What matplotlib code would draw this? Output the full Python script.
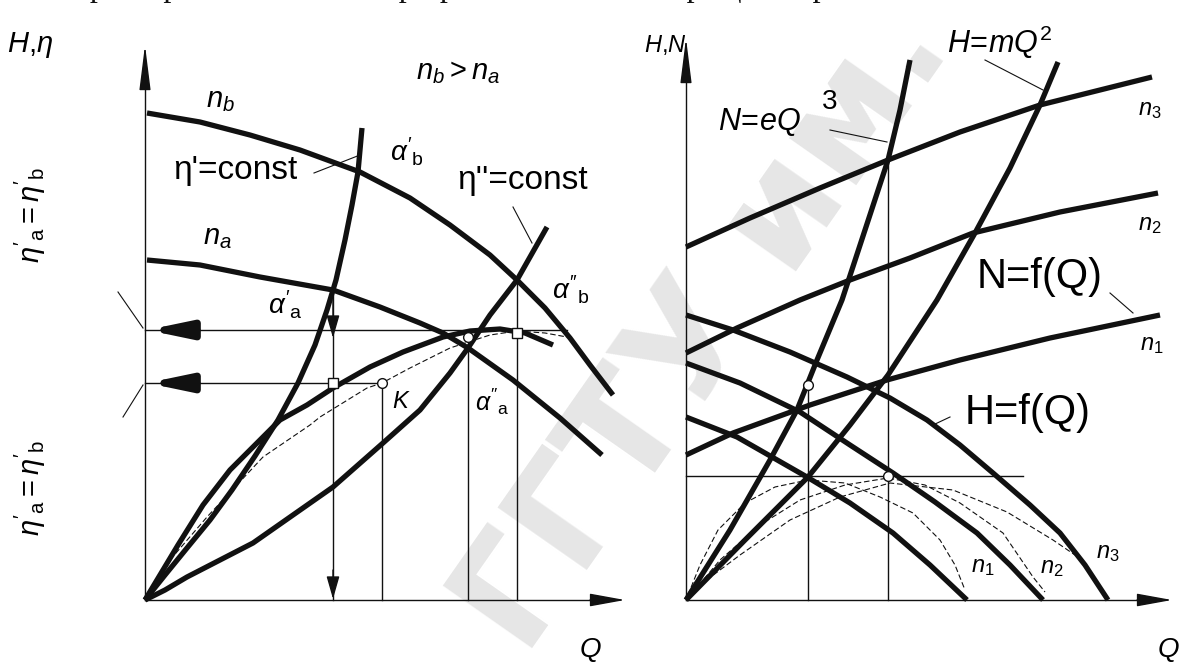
import matplotlib
matplotlib.use("Agg")
import matplotlib.pyplot as plt

plt.rcParams.update({
    "font.family": ["Liberation Sans", "DejaVu Sans"],
    "mathtext.fontset": "custom",
    "mathtext.rm": "Liberation Sans",
    "mathtext.it": "Liberation Sans:italic",
    "mathtext.bf": "Liberation Sans:bold",
})

INK = "#111111"
THICK = 3.8
THIN = 1.0

# ---------------- left diagram: H-Q at n_a, n_b, efficiency curves ----------------
# points are (Q, H) measured from the panel origin
HQ_NB = [(2, 487), (55, 478), (105, 465), (155, 450), (215, 428), (265, 402), (305, 375),
         (345, 345), (372, 320), (400, 292), (425, 262), (445, 235), (468, 205)]
HQ_NA = [(2, 340), (55, 335), (115, 323), (188, 310), (235, 293), (275, 277), (298, 267),
         (323, 252), (368, 220), (415, 182), (457, 145)]
ETA1_CONST = [(0, 0), (20, 25), (42, 52), (65, 80), (87, 110), (110, 144), (133, 180),
              (153, 217), (170, 255), (182, 290), (191, 320), (200, 360), (207, 395),
              (213, 428), (217, 472)]
ETA2_CONST = [(0, 0), (20, 10), (42, 23), (108, 57), (188, 113), (238, 157), (275, 190),
              (305, 227), (323, 252), (345, 285), (372, 320), (402, 373)]
EFF_NA = [(0, 0), (15, 25), (33, 55), (58, 95), (85, 130), (118, 163), (135, 180), (162, 195),
          (188, 212), (225, 233), (258, 248), (298, 263), (325, 269), (355, 271), (380, 267),
          (408, 255)]
EFF_NB = [(3, 5), (25, 40), (62, 83), (118, 143), (165, 175), (175, 183), (222, 212),
          (237, 217), (265, 232), (305, 252), (345, 265), (372, 269), (400, 267), (422, 263)]

# projection lines: (Q, H_top) verticals and (Q_end, H) horizontals
LEFT_VERT = [(188, 310), (237, 217), (323, 252), (372, 320)]
LEFT_HORZ = [(422, 270), (237, 217)]
LEFT_CIRCLES = [(237, 217), (323, 263)]
LEFT_SQUARES = [(188, 217), (372, 267)]

# ---------------- right diagram: H-Q and N-Q at n1, n2, n3 ----------------
NQ_N3 = [(0, 353), (64, 382), (134, 412), (202, 440), (274, 468), (354, 495), (414, 510), (466, 523)]
NQ_N2 = [(0, 247), (51, 272), (114, 300), (164, 320), (224, 342), (287, 367), (374, 388), (472, 407)]
NQ_N1 = [(0, 145), (47, 167), (124, 195), (201, 220), (274, 240), (364, 262), (474, 285)]
HQ_N3 = [(0, 285), (47, 270), (104, 248), (161, 223), (204, 202), (241, 180), (274, 155),
         (307, 127), (344, 95), (374, 67), (399, 35), (422, 0)]
HQ_N2 = [(0, 237), (54, 217), (114, 188), (164, 155), (207, 127), (249, 98), (291, 67),
         (324, 35), (357, 0)]
HQ_N1 = [(0, 183), (51, 163), (121, 123), (164, 97), (207, 67), (244, 35), (281, 0)]
H_MQ2 = [(0, 0), (59, 60), (122, 123), (164, 175), (202, 225), (251, 300), (289, 367),
         (324, 432), (354, 495), (372, 538)]
N_EQ3 = [(0, 0), (44, 70), (84, 140), (111, 190), (131, 240), (156, 300), (179, 370),
         (202, 440), (214, 490), (224, 540)]
ETA_N1 = [(2, 5), (14, 35), (32, 70), (59, 97), (89, 113), (122, 120), (159, 117), (194, 103),
          (227, 87), (254, 60), (269, 35), (279, 10)]
ETA_N2 = [(2, 2), (34, 40), (74, 75), (114, 100), (159, 115), (202, 122), (239, 115),
          (274, 97), (317, 67), (347, 23), (359, 8)]
ETA_N3 = [(14, 15), (54, 45), (104, 80), (154, 103), (204, 117), (267, 110), (321, 88),
          (367, 60), (389, 45)]

RIGHT_VERT = [(122, 215), (202, 440)]
RIGHT_HORZ = [(337, 124)]
RIGHT_CIRCLES = [(122, 215), (202, 124)]


def curve(ax, pts, lw=THICK, **kw):
    q, h = zip(*pts)
    ax.plot(q, h, color=INK, lw=lw, solid_capstyle="butt", solid_joinstyle="round", **kw)


def dashed(ax, pts):
    q, h = zip(*pts)
    ax.plot(q, h, color=INK, lw=0.8, dashes=(5, 2.5))


def arrow(ax, tip, tail, length, width, lw=THIN):
    ax.annotate("", xy=tip, xytext=tail,
                arrowprops=dict(arrowstyle=f"-|>,head_length={length},head_width={width}",
                                mutation_scale=1, lw=lw, color=INK, shrinkA=0, shrinkB=0))


def leader(ax, p0, p1):
    ax.plot([p0[0], p1[0]], [p0[1], p1[1]], color=INK, lw=0.8)


def axes_frame(ax, q_tip, h_tip):
    ax.plot([0, 0], [0, h_tip - 20], color=INK, lw=THIN)
    ax.plot([0, q_tip - 20], [0, 0], color=INK, lw=THIN)
    arrow(ax, (0, h_tip), (0, h_tip - 40), 28, 3.5)
    arrow(ax, (q_tip, 0), (q_tip - 35, 0), 22, 4)


def guides(ax, verts, horzs):
    for q, h in verts:
        ax.plot([q, q], [0, h], color=INK, lw=THIN)
    for q, h in horzs:
        ax.plot([0, q], [h, h], color=INK, lw=THIN)


def markers(ax, pts, shape):
    for q, h in pts:
        ax.plot(q, h, marker=shape, ms=7, mfc="white", mec=INK, mew=1.0, zorder=5)


fig = plt.figure(figsize=(11.84, 6.62), dpi=100)

# watermark behind both diagrams
fig.text(705 / 1184, 1 - 330 / 662, "ГГТУ им.", rotation=55, fontsize=108,
         family="DejaVu Sans", fontweight="bold", color="#e6e6e6",
         ha="center", va="center", zorder=-1)
# running text of the page above the figure, only its lowest strokes are inside
fig.text(60 / 1184, 1 + 4 / 662, "характеристики насоса при разных частотах вращения рабочего колеса",
         family="Liberation Serif", fontsize=23, va="baseline", color=INK)

# one full-figure axes per diagram, origin of each at its own Q-H corner
left = fig.add_axes([0, 0, 1, 1])
left.set_xlim(-145, 1039)
left.set_ylim(-62, 600)
right = fig.add_axes([0, 0, 1, 1])
right.set_xlim(-686, 498)
right.set_ylim(-62, 600)
for ax in (left, right):
    ax.axis("off")
    ax.patch.set_visible(False)

# ---- left
ax = left
axes_frame(ax, 480, 555)
guides(ax, LEFT_VERT, LEFT_HORZ)
for pts in (HQ_NB, HQ_NA, ETA1_CONST, ETA2_CONST, EFF_NA):
    curve(ax, pts)
dashed(ax, EFF_NB)
markers(ax, LEFT_CIRCLES, "o")
markers(ax, LEFT_SQUARES, "s")
for h in (270, 217):
    arrow(ax, (2, h), (52, h), 24, 5, lw=5)
arrow(ax, (188, 262), (188, 300), 14, 4)
arrow(ax, (188, 1), (188, 30), 14, 4)
leader(ax, (169, 427), (215, 445))
leader(ax, (368, 393), (387, 357))
leader(ax, (-27, 308), (-2, 272))
leader(ax, (-22, 183), (-2, 215))

ax.text(-115, 555, r"$H$,$\eta$", fontsize=21, ha="center", va="center")
ax.text(313, 528, r"$n_b > n_a$", fontsize=21, ha="center", va="center")
ax.text(75, 500, r"$n_b$", fontsize=21, ha="center", va="center")
ax.text(72, 363, r"$n_a$", fontsize=21, ha="center", va="center")
ax.text(90, 430, "η'=const", fontsize=24, ha="center", va="center")
ax.text(378, 420, "η''=const", fontsize=24, ha="center", va="center")
ax.text(262, 448, r"$\alpha'_\mathrm{b}$", fontsize=20, ha="center", va="center")
ax.text(140, 295, r"$\alpha'_\mathrm{a}$", fontsize=20, ha="center", va="center")
ax.text(426, 310, r"$\alpha''_\mathrm{b}$", fontsize=20, ha="center", va="center")
ax.text(347, 198, r"$\alpha''_\mathrm{a}$", fontsize=18, ha="center", va="center")
ax.text(256, 198, r"$K$", fontsize=17, ha="center", va="center")
ax.text(445, -50, r"$Q$", fontsize=20, ha="center", va="center")
ax.text(-115, 385, r"$\eta'_\mathrm{a}=\eta'_\mathrm{b}$", fontsize=21, rotation=90,
        ha="center", va="center")
ax.text(-115, 112, r"$\eta'_\mathrm{a}=\eta'_\mathrm{b}$", fontsize=21, rotation=90,
        ha="center", va="center")

# ---- right
ax = right
axes_frame(ax, 486, 562)
guides(ax, RIGHT_VERT, RIGHT_HORZ)
for pts in (NQ_N3, NQ_N2, NQ_N1, HQ_N3, HQ_N2, HQ_N1, H_MQ2, N_EQ3):
    curve(ax, pts)
for pts in (ETA_N1, ETA_N2, ETA_N3):
    dashed(ax, pts)
markers(ax, RIGHT_CIRCLES, "o")
leader(ax, (299, 540), (357, 510))
leader(ax, (144, 470), (201, 458))
leader(ax, (424, 307), (447, 287))
leader(ax, (264, 183), (247, 175))

ax.text(-21, 555, r"$H$,$N$", fontsize=17, ha="center", va="center")
ax.text(314, 558, r"$H\!=\!mQ^2$", fontsize=22, ha="center", va="center")
ax.text(74, 478, r"$N\!=\!eQ$", fontsize=22, ha="center", va="center")
ax.text(144, 498, "3", fontsize=20, ha="center", va="center")
ax.text(464, 490, r"$n_3$", fontsize=17, ha="center", va="center")
ax.text(464, 375, r"$n_2$", fontsize=17, ha="center", va="center")
ax.text(466, 255, r"$n_1$", fontsize=17, ha="center", va="center")
ax.text(354, 323, "N=f(Q)", fontsize=30, ha="center", va="center")
ax.text(342, 187, "H=f(Q)", fontsize=30, ha="center", va="center")
ax.text(297, 33, r"$n_1$", fontsize=17, ha="center", va="center")
ax.text(366, 32, r"$n_2$", fontsize=17, ha="center", va="center")
ax.text(422, 47, r"$n_3$", fontsize=17, ha="center", va="center")
ax.text(482, -50, r"$Q$", fontsize=20, ha="center", va="center")

fig.savefig("out.png", dpi=100)
